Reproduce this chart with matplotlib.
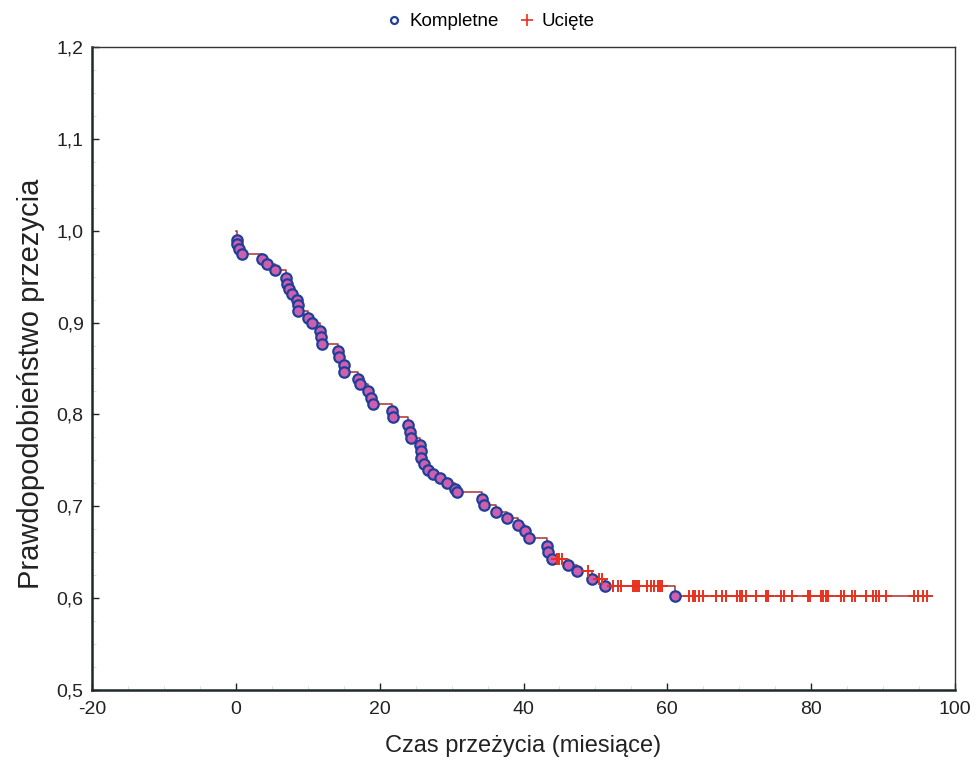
import numpy as np
import matplotlib
matplotlib.use("Agg")
import matplotlib.pyplot as plt
from matplotlib.ticker import FuncFormatter, AutoMinorLocator

# ---- data ----
event_times = [0.1, 0.2, 0.5, 0.8, 3.6, 4.3, 5.5, 7.0, 7.1, 7.4, 7.8, 8.5, 8.6, 8.7,
               10.0, 10.6, 11.7, 11.9, 12.0, 14.2, 14.3, 15.0, 15.1, 17.0, 17.3, 18.4,
               18.8, 19.1, 21.7, 21.9, 24.0, 24.2, 24.3, 25.6, 25.7, 25.8, 26.1, 26.7,
               27.4, 28.4, 29.3, 30.5, 30.7, 34.2, 34.5, 36.2, 37.7, 39.3, 40.2, 40.7,
               43.3, 43.4, 44.0, 46.2, 47.4, 49.5, 51.4, 61.1]
event_surv = [0.990, 0.985, 0.980, 0.975, 0.969, 0.964, 0.957, 0.949, 0.942, 0.936, 0.931,
              0.925, 0.919, 0.913, 0.905, 0.899, 0.891, 0.884, 0.877, 0.869, 0.862, 0.854,
              0.846, 0.838, 0.833, 0.825, 0.818, 0.811, 0.804, 0.797, 0.788, 0.781, 0.774,
              0.767, 0.760, 0.753, 0.746, 0.739, 0.735, 0.731, 0.725, 0.719, 0.715, 0.708,
              0.701, 0.694, 0.687, 0.680, 0.673, 0.665, 0.657, 0.650, 0.643, 0.636, 0.629,
              0.621, 0.613, 0.602]
censored_times = [44.6, 45.0, 45.4, 49.0, 50.5, 50.9, 52.5, 53.1, 53.5, 55.2, 55.5, 55.8,
                  56.1, 57.2, 57.7, 58.1, 58.7, 59.0, 59.3,
                  63.0, 63.5, 63.9, 64.4, 64.9, 66.7, 67.6, 68.2, 69.7, 70.1, 70.4, 70.9,
                  72.3, 73.7, 74.0, 75.8, 76.2, 77.4, 79.5, 79.9, 81.3, 81.7, 82.0, 82.4,
                  84.2, 84.6, 85.7, 86.1, 87.6, 88.6, 89.0, 89.5, 90.4, 94.3, 94.8, 95.5, 96.1]
start_surv = 1.0
x_ticks = [-20, 0, 20, 40, 60, 80, 100]
y_ticks = [0.5, 0.6, 0.7, 0.8, 0.9, 1.0, 1.1, 1.2]
legend_labels = ["Kompletne", "Ucięte"]
x_label = "Czas przeżycia (miesiące)"
y_label = "Prawdopodobieństwo przezycia"

plt.rcParams['font.family'] = ['Liberation Sans', 'DejaVu Sans']
plt.rcParams['axes.unicode_minus'] = False

ev_t = np.array(event_times)
ev_s = np.array(event_surv)
ce_t = np.array(censored_times)
idx = np.searchsorted(ev_t, ce_t, side='right') - 1
ce_s = np.where(idx >= 0, ev_s[np.clip(idx, 0, None)], start_surv)

fig = plt.figure(figsize=(9.8, 7.8), dpi=100)
ax = fig.add_axes([0.0939, 0.1154, 0.8806, 0.8244])

step_x = np.concatenate([[0.0], ev_t, [ce_t.max()]])
step_y = np.concatenate([[start_surv], ev_s, [ev_s[-1]]])
ax.step(step_x, step_y, where='post', color='#a83232', lw=1.1, zorder=2)

ax.plot(ev_t, ev_s, 'o', ms=7.5, mfc='#cc5fae', mec='#1f3f9a', mew=1.6,
        ls='none', zorder=3)
ax.plot(ce_t, ce_s, '+', ms=8, mec='#e8301e', mew=1.4, ls='none', zorder=4)

ax.set_xlim(-20, 100)
ax.set_ylim(0.5, 1.2)
ax.set_xticks(x_ticks)
ax.set_yticks(y_ticks)
ax.xaxis.set_minor_locator(AutoMinorLocator(4))
ax.yaxis.set_minor_locator(AutoMinorLocator(4))
ax.yaxis.set_major_formatter(FuncFormatter(lambda v, p: f"{v:.1f}".replace('.', ',')))
ax.tick_params(which='major', direction='in', length=5, width=1, labelsize=14,
               colors='#222222', pad=6)
ax.tick_params(which='minor', direction='in', length=3, width=0.6, color='#d4d4e0')
ax.tick_params(axis='x', pad=8)
for s in ['left', 'bottom']:
    ax.spines[s].set_linewidth(1.8)
    ax.spines[s].set_color('#1e2a2a')
for s in ['top', 'right']:
    ax.spines[s].set_linewidth(1.0)
    ax.spines[s].set_color('#333333')

ax.set_xlabel(x_label, fontsize=17, color='#222222', labelpad=12)
ax.set_ylabel(y_label, fontsize=21, color='#222222')
ax.yaxis.set_label_coords(-0.054, 0.476)

legend_handles = [
    plt.Line2D([], [], marker='o', ls='none', ms=5, mfc='white', mec='#1f3f9a', mew=1.6),
    plt.Line2D([], [], marker='+', ls='none', ms=8, mec='#e8301e', mew=1.2),
]
fig.legend(legend_handles, legend_labels, loc='upper center', bbox_to_anchor=(0.5, 1.005),
           ncol=2, frameon=False, fontsize=13.5, handletextpad=0.3, columnspacing=1.0,
           handlelength=1.0)

fig.savefig("out.png", dpi=100)
